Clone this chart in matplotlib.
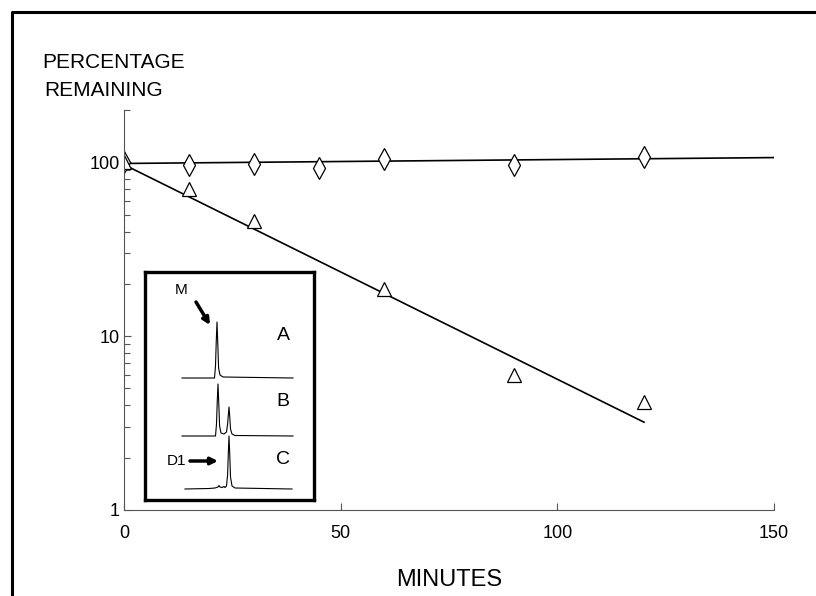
import numpy as np
import matplotlib.pyplot as plt
from matplotlib.lines import Line2D

plt.rcParams['font.family'] = ['Liberation Sans', 'DejaVu Sans']

# ---- data ----
minutes_d = [0, 15, 30, 45, 60, 90, 120]
pct_d = [100, 97, 98, 93, 104, 97, 108]
minutes_t = [0, 15, 30, 60, 90, 120]
pct_t = [100, 70, 46, 18.6, 6.0, 4.2]
# fitted lines (end points)
fit_d_x = [0, 150]
fit_d_y = [98.5, 106.5]
fit_t_x = [0, 120]
fit_t_y = [97, 3.2]

xticks = [0, 50, 100, 150]
yticks = [1, 10, 100]

# inset chromatograms: x position, height above own baseline
trace_a_x = [37, 69.5, 70.5, 71.3, 72, 72.8, 73.6, 75, 78, 148]
trace_a_h = [0, 0, 12, 38, 56, 34, 10, 3, 1, 0]
trace_b_x = [37, 70.5, 71.5, 72.3, 73, 73.8, 74.6, 76, 79, 81.5, 82.6, 83.4, 84, 84.7, 85.5, 87, 90, 148]
trace_b_h = [0, 0, 12, 36, 52, 32, 10, 3, 2, 4, 12, 22, 29, 20, 7, 2, 0.5, 0]
trace_c_x = [40, 64, 70, 73, 74, 75, 77, 79, 80, 81.5, 82.6, 83.4, 84, 84.7, 85.5, 87, 90, 147]
trace_c_h = [0, 0.5, 1, 2, 3.5, 2, 1.5, 2.5, 1.5, 3, 14, 38, 53, 36, 12, 3, 1, 0]
baselines = [122, 64, 11]

fig = plt.figure(figsize=(8.16, 5.96), dpi=100)

# outer frame (left and top only, the scan is cropped)
fig.add_artist(Line2D([12/816, 12/816, 1.01], [-0.01, 1 - 12/596, 1 - 12/596],
                      color='black', lw=2.2, transform=fig.transFigure))

ax = fig.add_axes([124/816, 86/596, 650/816, 400/596])
ax.set_yscale('log')
ax.set_xlim(0, 150)
ax.set_ylim(1, 200)

ax.plot(fit_d_x, fit_d_y, color='black', lw=1.2)
ax.plot(fit_t_x, fit_t_y, color='black', lw=1.2)
ax.plot(minutes_d, pct_d, linestyle='none', marker='d', markersize=11,
        markerfacecolor='white', markeredgecolor='black', markeredgewidth=0.9)
ax.plot(minutes_t, pct_t, linestyle='none', marker='^', markersize=10,
        markerfacecolor='white', markeredgecolor='black', markeredgewidth=0.9)

for s in ['top', 'right']:
    ax.spines[s].set_visible(False)
for s in ['left', 'bottom']:
    ax.spines[s].set_color('#555555')
    ax.spines[s].set_linewidth(0.8)

ax.set_xticks(xticks)
ax.set_xticklabels([str(v) for v in xticks], fontsize=13)
ax.set_yticks(yticks)
ax.set_yticklabels([str(v) for v in yticks], fontsize=13)
ax.tick_params(axis='x', direction='in', length=5, width=0.8, pad=11, color='#555555')
ax.tick_params(axis='y', which='major', direction='in', length=5, width=0.8, pad=3, color='#555555')
ax.tick_params(axis='y', which='minor', direction='in', length=4, width=0.8, color='#555555',
               labelleft=False)

ax.set_xlabel('MINUTES', fontsize=17, labelpad=19)
fig.text(42/816, 1 - 68/596, 'PERCENTAGE', fontsize=15, ha='left', va='baseline')
fig.text(44/816, 1 - 96/596, 'REMAINING', fontsize=15, ha='left', va='baseline')

# inset with chromatograms
ins = fig.add_axes([145/816, 96/596, 169/816, 228/596])
ins.set_xlim(0, 169)
ins.set_ylim(0, 228)
ins.set_xticks([])
ins.set_yticks([])
for s in ins.spines.values():
    s.set_linewidth(2.4)
    s.set_color('black')

for tx, th, base in zip([trace_a_x, trace_b_x, trace_c_x],
                        [trace_a_h, trace_b_h, trace_c_h], baselines):
    ins.plot(tx, np.array(th) + base, color='black', lw=0.8)

ins.text(138, 164, 'A', fontsize=14, ha='center', va='center')
ins.text(138, 98, 'B', fontsize=14, ha='center', va='center')
ins.text(138, 40, 'C', fontsize=14, ha='center', va='center')
ins.text(36, 210, 'M', fontsize=11, ha='center', va='center')
ins.text(32, 39, 'D1', fontsize=11, ha='center', va='center')
ins.annotate('', xy=(65, 175), xytext=(51, 198),
             arrowprops=dict(arrowstyle='-|>', lw=2.5, color='black',
                             mutation_scale=10, shrinkA=0, shrinkB=0))
ins.annotate('', xy=(73, 39), xytext=(45, 39),
             arrowprops=dict(arrowstyle='-|>', lw=2.5, color='black',
                             mutation_scale=10, shrinkA=0, shrinkB=0))

fig.savefig('out.png', dpi=100)
